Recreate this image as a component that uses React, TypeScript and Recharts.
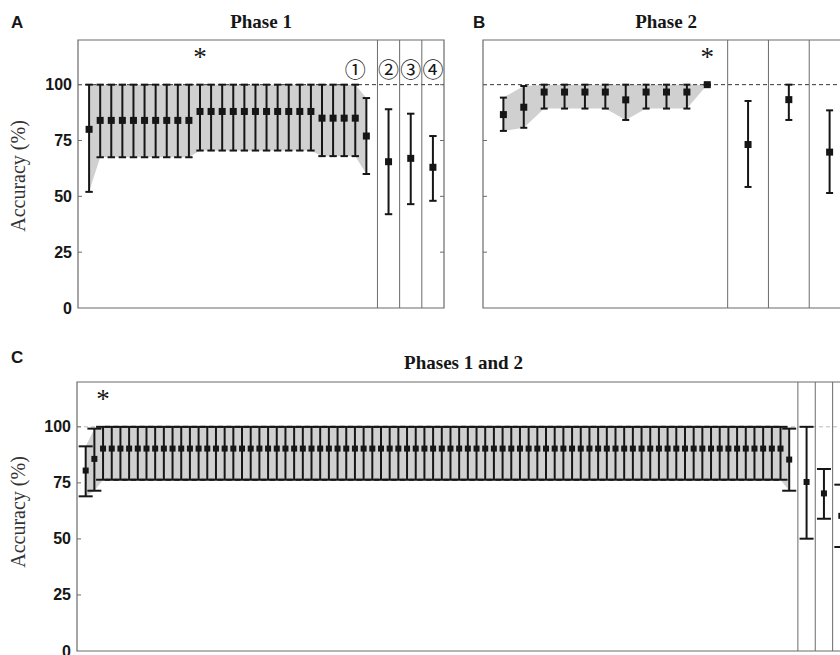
import React from "react";
import {
  ComposedChart,
  Area,
  Scatter,
  ErrorBar,
  XAxis,
  YAxis,
  ReferenceLine,
  ReferenceArea,
  ReferenceDot,
} from "recharts";

// ============================================
// Data (accuracy %, mean with lower / upper bounds)
// ============================================

// Phase 1 — main sequence (x = 0..25) and the three separate items
const P1_MEAN = [80, 84, 84, 84, 84, 84, 84, 84, 84, 84, 88, 88, 88, 88, 88, 88, 88, 88, 88, 88, 88, 85, 85, 85, 85, 77];
const P1_LO = [52, 67.5, 67.5, 67.5, 67.5, 67.5, 67.5, 67.5, 67.5, 67.5, 70.5, 70.5, 70.5, 70.5, 70.5, 70.5, 70.5, 70.5, 70.5, 70.5, 70.5, 68, 68, 68, 68, 60];
const P1_HI = [100, 100, 100, 100, 100, 100, 100, 100, 100, 100, 100, 100, 100, 100, 100, 100, 100, 100, 100, 100, 100, 100, 100, 100, 100, 94];
const P1_EXTRA_X = [27, 29, 31];
const P1_EXTRA_MEAN = [65.5, 67, 63];
const P1_EXTRA_LO = [42, 46.5, 48];
const P1_EXTRA_HI = [89, 87, 77];
const P1_SEPS = [26, 28, 30];
const P1_TICKS = [12.5, 27, 29, 31];

// Phase 2
const P2_MEAN = [86.6, 89.9, 96.7, 96.7, 96.7, 96.7, 93.2, 96.7, 96.7, 96.7, 100];
const P2_LO = [79.3, 80.7, 89.3, 89.3, 89.3, 89.3, 84.2, 89.3, 89.3, 89.3, 100];
const P2_HI = [94.2, 99.4, 100, 100, 100, 100, 100, 100, 100, 100, 100];
const P2_EXTRA_X = [12, 14, 16];
const P2_EXTRA_MEAN = [73.2, 93.3, 69.8];
const P2_EXTRA_LO = [54.2, 84.2, 51.5];
const P2_EXTRA_HI = [92.7, 100, 88.5];
const P2_SEPS = [11, 13, 15];
const P2_TICKS = [5, 12, 14, 16];

// Phases 1 and 2
const P12_MEAN = [
  80.5, 85.7, 90.3, 90.3, 90.3, 90.3, 90.3, 90.3, 90.3, 90.3,
  90.3, 90.3, 90.3, 90.3, 90.3, 90.3, 90.3, 90.3, 90.3, 90.3,
  90.3, 90.3, 90.3, 90.3, 90.3, 90.3, 90.3, 90.3, 90.3, 90.3,
  90.3, 90.3, 90.3, 90.3, 90.3, 90.3, 90.3, 90.3, 90.3, 90.3,
  90.3, 90.3, 90.3, 90.3, 90.3, 90.3, 90.3, 90.3, 90.3, 90.3,
  90.3, 90.3, 90.3, 90.3, 90.3, 90.3, 90.3, 90.3, 90.3, 90.3,
  90.3, 90.3, 90.3, 90.3, 90.3, 90.3, 90.3, 90.3, 90.3, 90.3,
  90.3, 90.3, 90.3, 90.3, 90.3, 90.3, 90.3, 90.3, 90.3, 90.3,
  90.3, 85.4,
];
const P12_LO = [
  69, 71.5, 76.4, 76.4, 76.4, 76.4, 76.4, 76.4, 76.4, 76.4,
  76.4, 76.4, 76.4, 76.4, 76.4, 76.4, 76.4, 76.4, 76.4, 76.4,
  76.4, 76.4, 76.4, 76.4, 76.4, 76.4, 76.4, 76.4, 76.4, 76.4,
  76.4, 76.4, 76.4, 76.4, 76.4, 76.4, 76.4, 76.4, 76.4, 76.4,
  76.4, 76.4, 76.4, 76.4, 76.4, 76.4, 76.4, 76.4, 76.4, 76.4,
  76.4, 76.4, 76.4, 76.4, 76.4, 76.4, 76.4, 76.4, 76.4, 76.4,
  76.4, 76.4, 76.4, 76.4, 76.4, 76.4, 76.4, 76.4, 76.4, 76.4,
  76.4, 76.4, 76.4, 76.4, 76.4, 76.4, 76.4, 76.4, 76.4, 76.4,
  76.4, 71.5,
];
const P12_HI = [
  91.3, 99.2, 100, 100, 100, 100, 100, 100, 100, 100,
  100, 100, 100, 100, 100, 100, 100, 100, 100, 100,
  100, 100, 100, 100, 100, 100, 100, 100, 100, 100,
  100, 100, 100, 100, 100, 100, 100, 100, 100, 100,
  100, 100, 100, 100, 100, 100, 100, 100, 100, 100,
  100, 100, 100, 100, 100, 100, 100, 100, 100, 100,
  100, 100, 100, 100, 100, 100, 100, 100, 100, 100,
  100, 100, 100, 100, 100, 100, 100, 100, 100, 100,
  100, 99.2,
];
const P12_EXTRA_X = [83, 85, 87];
const P12_EXTRA_MEAN = [75.4, 70.3, 60.3];
const P12_EXTRA_LO = [50.1, 59, 46.4];
const P12_EXTRA_HI = [100, 81.2, 74.2];
const P12_SEPS = [82, 84, 86];
const P12_TICKS = [40.5, 83, 85, 87];

const Y_TICKS = [0, 25, 50, 75, 100];
const CIRCLED = ["①", "②", "③", "④"];

// ============================================
// Shared styles
// ============================================

const FRAME = "#6b6b6b";
const INK = "#161616";
const BAND = "#d0d0d0";

type Row = {
  x: number;
  mean: number;
  err: [number, number];
  band: [number, number] | null;
};

type Note = { x: number; y: number; text: string; kind: "star" | "circle" };

function buildRows(
  mean: number[],
  lo: number[],
  hi: number[],
  ex: number[],
  em: number[],
  el: number[],
  eh: number[]
): Row[] {
  const rows: Row[] = mean.map((m, i) => ({
    x: i,
    mean: m,
    err: [m - lo[i], hi[i] - m],
    band: [lo[i], hi[i]],
  }));
  ex.forEach((x, j) => {
    rows.push({ x, mean: em[j], err: [em[j] - el[j], eh[j] - em[j]], band: null });
  });
  return rows;
}

const P1_ROWS = buildRows(P1_MEAN, P1_LO, P1_HI, P1_EXTRA_X, P1_EXTRA_MEAN, P1_EXTRA_LO, P1_EXTRA_HI);
const P2_ROWS = buildRows(P2_MEAN, P2_LO, P2_HI, P2_EXTRA_X, P2_EXTRA_MEAN, P2_EXTRA_LO, P2_EXTRA_HI);
const P12_ROWS = buildRows(P12_MEAN, P12_LO, P12_HI, P12_EXTRA_X, P12_EXTRA_MEAN, P12_EXTRA_LO, P12_EXTRA_HI);

const P1_NOTES: Note[] = [
  { x: 10, y: 108.5, text: "*", kind: "star" },
  ...[24, 27, 29, 31].map((x, i) => ({ x, y: 107.6, text: CIRCLED[i], kind: "circle" as const })),
];
const P2_NOTES: Note[] = [{ x: 10, y: 108.5, text: "*", kind: "star" }];
const P12_NOTES: Note[] = [{ x: 2, y: 108.5, text: "*", kind: "star" }];

// ============================================
// One panel
// ============================================

type PanelProps = {
  left: number;
  top: number;
  chartW: number;
  chartH: number;
  plotLeft: number;
  plotTop: number;
  plotW: number;
  plotH: number;
  xDomain: [number, number];
  xTicks: number[];
  rows: Row[];
  seps: number[];
  cap: number; // half width of the error bar ends
  marker: number;
  dash: string;
  yLabels: boolean;
  notes: Note[];
};

function Panel(p: PanelProps) {
  const margin = {
    top: p.plotTop,
    right: p.chartW - p.plotLeft - p.plotW,
    bottom: p.chartH - p.plotTop - p.plotH,
    left: 0,
  };

  const square = (s: any) =>
    s.cx == null ? (
      <g />
    ) : (
      <rect x={s.cx - p.marker / 2} y={s.cy - p.marker / 2} width={p.marker} height={p.marker} fill={INK} />
    );

  const yTick = (t: any) => {
    const v = t.payload.value;
    const ax = t.x + 6;
    return (
      <g>
        {p.yLabels ? (
          <text
            x={t.x}
            y={t.y}
            textAnchor="end"
            dominantBaseline="central"
            fontFamily="'Liberation Sans', Arial, sans-serif"
            fontWeight="bold"
            fontSize={16}
            fill={INK}
          >
            {v}
          </text>
        ) : null}
        {v > 0 ? (
          <>
            <line x1={ax} x2={ax + 4} y1={t.y} y2={t.y} stroke={FRAME} />
            <line x1={ax + p.plotW - 4} x2={ax + p.plotW} y1={t.y} y2={t.y} stroke={FRAME} />
          </>
        ) : null}
      </g>
    );
  };

  const xTick = (t: any) => (
    <g>
      <line x1={t.x} x2={t.x} y1={t.y} y2={t.y - 4} stroke={FRAME} />
      <line x1={t.x} x2={t.x} y1={t.y - p.plotH} y2={t.y - p.plotH + 4} stroke={FRAME} />
    </g>
  );

  return (
    <div style={{ position: "absolute", left: p.left, top: p.top }}>
      <ComposedChart width={p.chartW} height={p.chartH} data={p.rows} margin={margin}>
        <XAxis
          type="number"
          dataKey="x"
          domain={p.xDomain}
          ticks={p.xTicks}
          interval={0}
          height={0}
          tickSize={0}
          tickMargin={0}
          axisLine={false}
          tick={xTick}
        />
        <YAxis
          type="number"
          domain={[0, 120]}
          ticks={Y_TICKS}
          interval={0}
          width={p.plotLeft}
          tickSize={0}
          tickMargin={6}
          axisLine={false}
          tick={yTick}
        />
        <Area
          dataKey="band"
          type="linear"
          fill={BAND}
          fillOpacity={1}
          stroke="none"
          dot={false}
          activeDot={false}
          isAnimationActive={false}
        />
        <ReferenceLine y={100} stroke={p.dash} strokeDasharray="4 3" />
        {p.seps.map((s) => (
          <ReferenceLine key={s} x={s} stroke={FRAME} />
        ))}
        <ReferenceArea
          x1={p.xDomain[0]}
          x2={p.xDomain[1]}
          y1={0}
          y2={120}
          fill="none"
          stroke={FRAME}
          strokeWidth={1.2}
        />
        <Scatter dataKey="mean" shape={square} isAnimationActive={false}>
          <ErrorBar dataKey="err" direction="y" width={p.cap} strokeWidth={2} stroke={INK} />
        </Scatter>
        {p.notes.map((n, i) => (
          <ReferenceDot
            key={i}
            x={n.x}
            y={n.y}
            r={0}
            shape={(s: any) => (
              <text
                x={s.cx}
                y={s.cy}
                textAnchor="middle"
                dominantBaseline={n.kind === "circle" ? "central" : "alphabetic"}
                fontFamily={n.kind === "circle" ? "'Noto Sans CJK JP', sans-serif" : "'Liberation Serif', serif"}
                fontSize={n.kind === "circle" ? 21 : 27}
                fill={INK}
              >
                {n.text}
              </text>
            )}
          />
        ))}
      </ComposedChart>
    </div>
  );
}

// ============================================
// Figure
// ============================================

const SERIF = "'Liberation Serif', 'Times New Roman', serif";
const SANS = "'Liberation Sans', Arial, sans-serif";

export default function App() {
  return (
    <div
      style={{
        position: "fixed",
        left: 0,
        top: 0,
        width: 840,
        height: 655,
        overflow: "hidden",
        background: "#fff",
      }}
    >
      <Panel
        left={0}
        top={0}
        chartW={452}
        chartH={320}
        plotLeft={78}
        plotTop={40}
        plotW={366}
        plotH={268}
        xDomain={[-1, 32]}
        xTicks={P1_TICKS}
        rows={P1_ROWS}
        seps={P1_SEPS}
        cap={3.7}
        marker={7}
        dash="#333"
        yLabels
        notes={P1_NOTES}
      />
      <Panel
        left={405}
        top={0}
        chartW={460}
        chartH={320}
        plotLeft={78}
        plotTop={40}
        plotW={367}
        plotH={268}
        xDomain={[-1, 17]}
        xTicks={P2_TICKS}
        rows={P2_ROWS}
        seps={P2_SEPS}
        cap={3.5}
        marker={7}
        dash="#333"
        yLabels={false}
        notes={P2_NOTES}
      />
      <Panel
        left={0}
        top={342}
        chartW={860}
        chartH={313}
        plotLeft={77}
        plotTop={40}
        plotW={773}
        plotH={269}
        xDomain={[-1, 88]}
        xTicks={P12_TICKS}
        rows={P12_ROWS}
        seps={P12_SEPS}
        cap={7}
        marker={6}
        dash="#bbb"
        yLabels
        notes={P12_NOTES}
      />
      <svg
        width={840}
        height={655}
        style={{ position: "absolute", left: 0, top: 0, pointerEvents: "none" }}
      >
        <text x={11} y={28} fontFamily={SANS} fontWeight="bold" fontSize={17} fill={INK}>A</text>
        <text x={473} y={28} fontFamily={SANS} fontWeight="bold" fontSize={17} fill={INK}>B</text>
        <text x={11} y={363} fontFamily={SANS} fontWeight="bold" fontSize={17} fill={INK}>C</text>
        <text x={261} y={27.5} textAnchor="middle" fontFamily={SERIF} fontWeight="bold" fontSize={19} fill={INK}>
          Phase 1
        </text>
        <text x={666} y={27.5} textAnchor="middle" fontFamily={SERIF} fontWeight="bold" fontSize={19} fill={INK}>
          Phase 2
        </text>
        <text x={463.5} y={369} textAnchor="middle" fontFamily={SERIF} fontWeight="bold" fontSize={19} fill={INK}>
          Phases 1 and 2
        </text>
        <text
          transform="translate(25,176) rotate(-90)"
          textAnchor="middle"
          fontFamily={SERIF}
          fontSize={20}
          fill="#333"
        >
          Accuracy (%)
        </text>
        <text
          transform="translate(25,512) rotate(-90)"
          textAnchor="middle"
          fontFamily={SERIF}
          fontSize={20}
          fill="#333"
        >
          Accuracy (%)
        </text>
      </svg>
    </div>
  );
}
